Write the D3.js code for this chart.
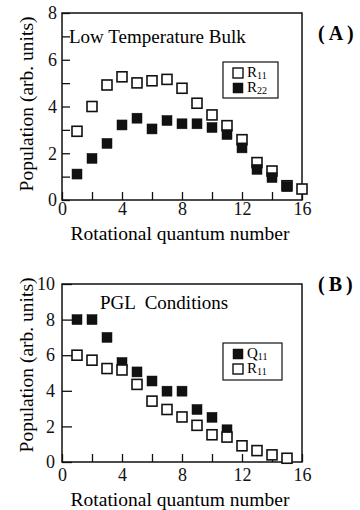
<!DOCTYPE html>
<html>
<head>
<meta charset="utf-8">
<script src="https://cdn.jsdelivr.net/npm/d3@7"></script>
<style>
  body { margin: 0; background: #fff; }
  .axis line { stroke: #111; stroke-width: 1.3; }
  .axis path { display: none; }
</style>
</head>
<body>
<div class="canvas"></div>
<script>
// rotational quantum numbers
const jA = d3.range(1, 17);

// panel A: low temperature bulk
const aR11 = [2.94, 4.0, 4.92, 5.27, 5.01, 5.10, 5.16, 4.78, 4.14, 3.64, 3.18, 2.58, 1.6, 1.24, 0.61, 0.47];
const aR22 = [1.11, 1.78, 2.42, 3.21, 3.5, 3.04, 3.4, 3.26, 3.26, 3.1, 2.8, 2.23, 1.31, 0.96, 0.58];

// panel B: PGL conditions
const bQ11 = [8.0, 8.0, 7.0, 5.59, 5.06, 4.55, 3.98, 3.98, 2.95, 2.51, 1.81];
const bR11 = [6.0, 5.72, 5.25, 5.17, 4.36, 3.42, 2.95, 2.53, 2.06, 1.53, 1.4, 0.91, 0.64, 0.4, 0.21];

const xTicks = [0, 4, 8, 12, 16];

const FONT = '"Liberation Serif", "Times New Roman", Times, serif';

const svg = d3.select('.canvas')
    .append('svg')
    .attr('width', 360)
    .attr('height', 510)
    .style('font-family', FONT);

svg.append('rect').attr('width', 360).attr('height', 510).attr('fill', '#fff');

const x = d3.scaleLinear().domain([0, 16]).range([62, 302]);

//draw one panel
function panel(o) {
    const y = d3.scaleLinear().domain([0, o.ymax]).range([o.bottom, o.top]);
    const g = svg.append('g');

    // inward x ticks every 2, labels every 4
    g.append('g')
        .attr('class', 'axis')
        .attr('transform', `translate(0, ${o.bottom})`)
        .call(d3.axisBottom(x).tickValues(d3.range(0, 17, 2)).tickSizeInner(-8).tickSizeOuter(0).tickFormat(''));
    g.append('g')
        .attr('class', 'axis')
        .attr('transform', `translate(0, ${o.bottom})`)
        .call(d3.axisBottom(x).tickValues(xTicks).tickSize(0).tickPadding(o.xPad))
        .selectAll('text')
            .attr('fill', '#111')
            .style('font-family', FONT)
            .style('font-size', '18px');

    // y ticks
    g.append('g')
        .attr('class', 'axis')
        .attr('transform', `translate(${x(0)}, 0)`)
        .call(d3.axisLeft(y).tickValues(d3.range(0, o.ymax + 1, o.minor)).tickSizeInner(-o.tickLen).tickSizeOuter(0)
            .tickPadding(o.yPad).tickFormat(d => d % 2 ? '' : d))
        .selectAll('text')
            .attr('fill', '#111')
            .style('font-family', FONT)
            .style('font-size', '18px');

    // frame
    g.append('rect')
        .attr('x', x(0)).attr('y', o.top)
        .attr('width', x(16) - x(0)).attr('height', o.bottom - o.top)
        .attr('fill', 'none').attr('stroke', '#111').attr('stroke-width', 1.5);

    // markers
    o.series.forEach(s => {
        g.append('g').selectAll('rect')
            .data(s.values.map((v, i) => ({ j: jA[i], v })))
            .enter().append('rect')
                .attr('x', d => x(d.j) - 5)
                .attr('y', d => y(d.v) - 5)
                .attr('width', 10)
                .attr('height', 10)
                .attr('fill', s.filled ? '#111' : '#fff')
                .attr('stroke', '#111')
                .attr('stroke-width', s.filled ? 0.5 : 1.6);
    });

    // axis titles
    g.append('text')
        .attr('x', 180).attr('y', o.titleY)
        .attr('text-anchor', 'middle')
        .style('font-family', FONT)
        .style('font-size', '19.5px')
        .text('Rotational quantum number');
    g.append('text')
        .attr('transform', `translate(33, ${o.yTitle}) rotate(-90)`)
        .attr('text-anchor', 'middle')
        .style('font-family', FONT)
        .style('font-size', '19.5px')
        .text('Population (arb. units)');

    // inner caption
    g.append('text')
        .attr('x', o.capX).attr('y', o.capY)
        .style('font-family', FONT)
        .style('font-size', '19px')
        .style('white-space', 'pre')
        .text(o.caption);

    // panel tag
    g.append('text')
        .attr('x', 318).attr('y', o.tagY)
        .style('font-family', FONT)
        .style('font-size', '20px').style('font-weight', 'bold')
        .style('letter-spacing', '4px')
        .text(o.tag);

    // legend
    const lg = g.append('g');
    lg.append('rect')
        .attr('x', o.legend.x).attr('y', o.legend.y)
        .attr('width', o.legend.w).attr('height', o.legend.h)
        .attr('fill', '#fff').attr('stroke', '#111').attr('stroke-width', 1.2);
    o.legend.items.forEach((it, i) => {
        const cy = o.legend.y + 11 + i * 15;
        lg.append('rect')
            .attr('x', o.legend.x + 10).attr('y', cy - 5)
            .attr('width', 10).attr('height', 10)
            .attr('fill', it.filled ? '#111' : '#fff')
            .attr('stroke', '#111').attr('stroke-width', it.filled ? 0.5 : 1.4);
        const t = lg.append('text')
            .attr('x', o.legend.x + 24).attr('y', cy + 4)
            .style('font-family', FONT)
            .style('font-size', '15px');
        t.append('tspan').text(it.name);
        t.append('tspan').attr('dy', 2).style('font-size', '10px').text(it.sub);
    });
}

panel({
    ymax: 8, top: 13, bottom: 200, minor: 1, tickLen: 8,
    xPad: 2, yPad: 5, titleY: 240, yTitle: 104,
    caption: 'Low Temperature Bulk', capX: 69, capY: 43,
    tag: '(A)', tagY: 40,
    series: [
        { values: aR11, filled: false },
        { values: aR22, filled: true }
    ],
    legend: { x: 223, y: 62, w: 55, h: 36, items: [
        { name: 'R', sub: '11', filled: false },
        { name: 'R', sub: '22', filled: true }
    ] }
});

panel({
    ymax: 10, top: 284, bottom: 462, minor: 2, tickLen: 10,
    xPad: 6, yPad: 7, titleY: 506, yTitle: 365,
    caption: 'PGL  Conditions', capX: 100, capY: 309,
    tag: '(B)', tagY: 291,
    series: [
        { values: bQ11, filled: true },
        { values: bR11, filled: false }
    ],
    legend: { x: 223, y: 343, w: 59, h: 37, items: [
        { name: 'Q', sub: '11', filled: true },
        { name: 'R', sub: '11', filled: false }
    ] }
});
</script>
</body>
</html>
